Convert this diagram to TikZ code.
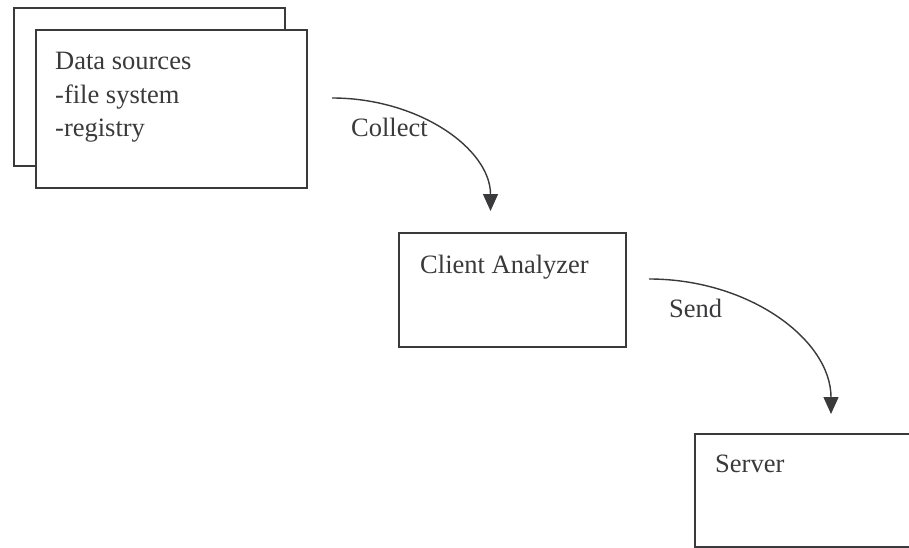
\documentclass[tikz,border=0pt]{standalone}
\usepackage{fontspec}
\setmainfont{Liberation Serif}
\usetikzlibrary{arrows.meta}
\definecolor{ink}{HTML}{3A3A3C}
\tikzset{
  box/.style={draw=ink, line width=1.5pt, fill=white, rectangle, inner sep=0pt},
  thickbox/.style={box, line width=2.6pt},
  txt/.style={anchor=base west, inner sep=0pt, text=ink, font=\fontsize{26.5}{33.5}\selectfont},
  flow/.style={draw=ink, line width=1.4pt, -{Triangle[length=17pt,width=15pt]}}
}
\begin{document}
\begin{tikzpicture}[x=1pt,y=-1pt]
  \clip (0,0) rectangle (909,548);
  \fill[white] (0,0) rectangle (909,548);

  % stacked data-source sheets
  \node[box, minimum width=271pt, minimum height=158pt] (back) at (149.5,87) {};
  \node[box, minimum width=271pt, minimum height=158pt] (ds) at (171.5,109) {};
  \node[txt] (dst1) at (55,70) {Data sources};
  \node[txt] (dst2) at (55,103.5) {-file system};
  \node[txt] (dst3) at (55,137) {-registry};

  % client analyzer
  \node[thickbox, minimum width=227pt, minimum height=114pt] (ca) at (512.5,290) {};
  \node[txt] (cat) at (420,273) {Client Analyzer};

  % server (runs off the right edge)
  \node[box, line width=2pt, minimum width=230pt, minimum height=113pt] (srv) at (810,490.5) {};
  \node[txt] (srvt) at (715,472) {Server};

  % connector ends
  \coordinate (cs) at (332,98);
  \coordinate (ct) at (490.5,211);
  \coordinate (ss) at (649,279);
  \coordinate (st) at (831,414);

  \draw[flow] (cs) .. controls +(87,0) and +(0,-62) .. (ct);
  \node[txt] (collect) at (351,137) {Collect};

  \draw[flow] (ss) .. controls +(100.5,0) and +(0,-74) .. (st);
  \node[txt] (send) at (669,317) {Send};
\end{tikzpicture}
\end{document}
